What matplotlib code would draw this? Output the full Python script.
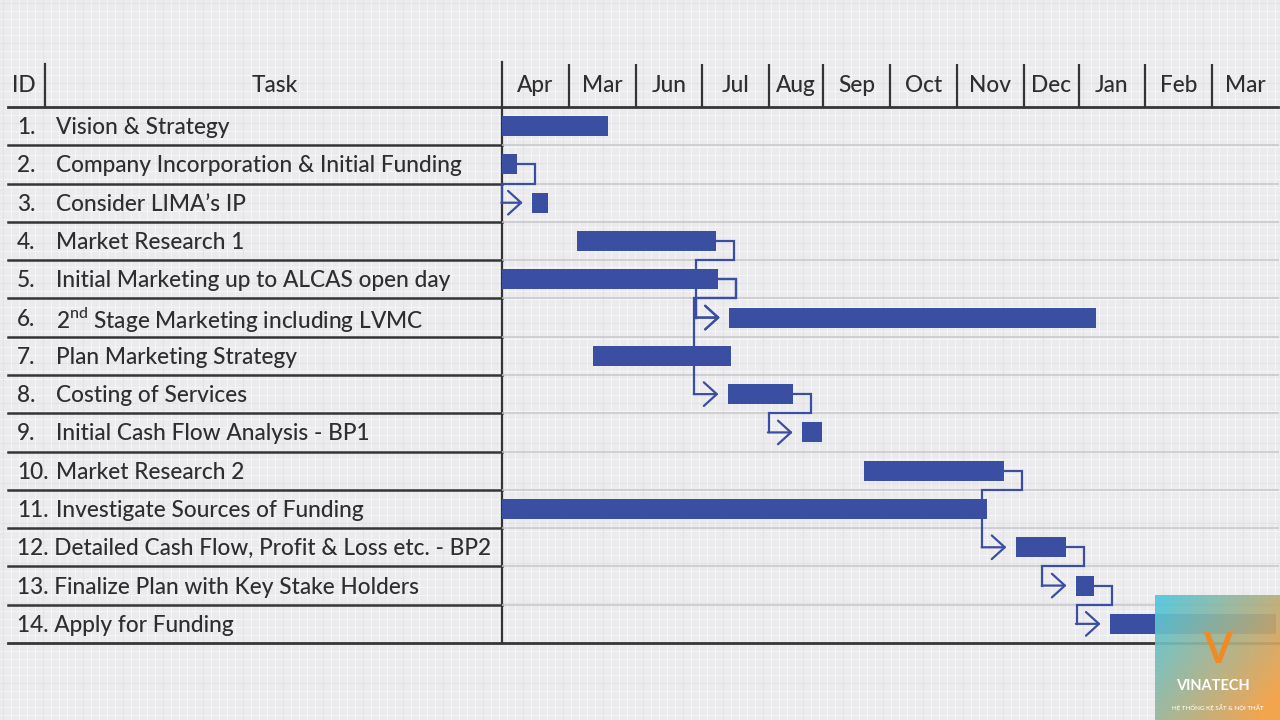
import numpy as np
import matplotlib.pyplot as plt
from matplotlib.collections import LineCollection

plt.rcParams['font.family'] = ['Lato', 'DejaVu Sans']
plt.rcParams['font.weight'] = 'medium'
plt.rcParams['mathtext.fontset'] = 'custom'
plt.rcParams['mathtext.rm'] = 'Lato:medium'

# month columns (width relative to a normal month column)
months = ['Apr', 'Mar', 'Jun', 'Jul', 'Aug', 'Sep', 'Oct', 'Nov', 'Dec', 'Jan', 'Feb', 'Mar']
month_widths = [1, 1, 1, 1, 0.81, 1, 1, 1, 0.82, 1, 1, 1]

task_ids = list(range(1, 15))
tasks = ['Vision & Strategy',
         'Company Incorporation & Initial Funding',
         'Consider LIMA\u2019s IP',
         'Market Research 1',
         'Initial Marketing up to ALCAS open day',
         r'2$^{\rm nd}$ Stage Marketing including LVMC',
         'Plan Marketing Strategy',
         'Costing of Services',
         'Initial Cash Flow Analysis - BP1',
         'Market Research 2',
         'Investigate Sources of Funding',
         'Detailed Cash Flow, Profit & Loss etc. - BP2',
         'Finalize Plan with Key Stake Holders',
         'Apply for Funding']
# start / finish in month-column units
start = [0, 0, 0.45, 1.12, 0, 3.40, 1.36, 3.38, 4.49, 5.42, 0, 7.69, 8.59, 9.10]
finish = [1.59, 0.22, 0.69, 3.20, 3.23, 8.89, 3.43, 4.36, 4.79, 7.51, 7.26, 8.44, 8.86, 11.58]
# dependencies (from task, to task)
links = [(2, 3), (4, 6), (5, 6), (5, 8), (8, 9), (10, 12), (12, 13), (13, 14)]

bar_col = '#3a4ea2'
dark = '#353535'
text_col = '#2e2e2e'
fs = 16.3

fig = plt.figure(figsize=(12.8, 7.2), dpi=100)
fig.patch.set_facecolor('#ebebee')

# background / table layer in pixel coords
bg = fig.add_axes([0, 0, 1, 1])
bg.set_xlim(0, 1280)
bg.set_ylim(720, 0)
bg.axis('off')

# graph paper texture
seg = [[(x, 0), (x, 720)] for x in np.arange(3, 1280, 8)]
seg += [[(0, y), (1280, y)] for y in np.arange(3, 720, 8)]
bg.add_collection(LineCollection(seg, colors='#f5f5f7', linewidths=0.8, zorder=0))
seg = [[(x, 0), (x, 720)] for x in np.arange(3, 1280, 40)]
seg += [[(0, y), (1280, y)] for y in np.arange(3, 720, 40)]
bg.add_collection(LineCollection(seg, colors='#e3e3e7', linewidths=0.8, zorder=0))

top, row_h = 107, (643 - 107) / 14
left, split, right = 8, 502, 1278

# table lines
for k in range(1, 14):
    y = top + k * row_h
    bg.plot([left, split], [y, y], color=dark, lw=1.8, zorder=2)
bg.plot([left, right], [top, top], color=dark, lw=2.0, zorder=3)
bg.plot([left, right], [643, 643], color=dark, lw=2.0, zorder=3)
bg.plot([split, split], [62, 643], color=dark, lw=1.6, zorder=3)
bg.plot([45, 45], [64, top], color=dark, lw=1.6, zorder=3)

bg.text(24, 85, 'ID', ha='center', va='center', fontsize=fs, color=text_col)
bg.text(275, 85, 'Task', ha='center', va='center', fontsize=fs, color=text_col)
for i, (tid, name) in enumerate(zip(task_ids, tasks)):
    y = top + (i + 0.5) * row_h + 1.5
    if tid < 12:
        bg.text(17, y, f'{tid}.', ha='left', va='center', fontsize=fs, color=text_col)
        bg.text(56, y, name, ha='left', va='center', fontsize=fs, color=text_col)
    else:
        bg.text(17, y, f'{tid}. {name}', ha='left', va='center', fontsize=fs, color=text_col)

# gantt layer: x in month units, y in task rows
edges = np.concatenate([[0], np.cumsum(month_widths)])
ax = fig.add_axes([split / 1280, 1 - 643 / 720, (1279 - split) / 1280, (643 - top) / 720])
ax.set_xlim(0, edges[-1])
ax.set_ylim(14.5, 0.5)
ax.axis('off')
ax.patch.set_alpha(0)

for k in range(1, 14):
    ax.axhline(k + 0.5, color='#c6c6cb', lw=1.1, zorder=1)

hdr_y = 0.5 - (top - 85) / row_h
for m, a, b in zip(months, edges[:-1], edges[1:]):
    ax.text((a + b) / 2, hdr_y, m, ha='center', va='center', fontsize=fs,
            color=text_col, clip_on=False)
for e in edges[1:-1]:
    ax.plot([e, e], [0.5 - (top - 64) / row_h, 0.5], color=dark, lw=1.6,
            clip_on=False, solid_capstyle='butt')

ax.barh(task_ids, np.array(finish) - np.array(start), left=start, height=0.52,
        color=bar_col, zorder=4)

for a, b in links:
    x0 = finish[a - 1]
    xr = x0 + 0.27
    xe = max(start[b - 1] - 0.5, 0)
    xt = start[b - 1] - 0.14
    ax.plot([x0, xr, xr, xe, xe], [a, a, a + 0.5, a + 0.5, b], color=bar_col,
            lw=1.6, zorder=3, clip_on=False, solid_joinstyle='miter')
    ax.annotate('', xy=(xt, b), xytext=(xe - 0.01, b),
                arrowprops=dict(arrowstyle='->,head_length=0.55,head_width=0.5',
                                color=bar_col, lw=1.6, shrinkA=0, shrinkB=0,
                                mutation_scale=17),
                zorder=3)

# watermark logo box
logo = fig.add_axes([1155 / 1280, 0, 125 / 1280, 125 / 720])
gx, gy = np.meshgrid(np.linspace(0, 1, 50), np.linspace(0, 1, 50))
c1 = np.array([0.30, 0.78, 0.88])
c2 = np.array([0.96, 0.62, 0.25])
t = np.clip(0.65 * gx + 0.45 * gy, 0, 1)[..., None]
logo.imshow(c1 * (1 - t) + c2 * t, extent=[0, 1, 0, 1], alpha=0.92, aspect='auto')
logo.set_xlim(0, 1)
logo.set_ylim(0, 1)
logo.axis('off')
logo.text(0.5, 0.55, 'V', ha='center', va='center', fontsize=30, color='#f08a24',
          fontweight='bold')
logo.text(0.46, 0.27, 'VINATECH', ha='center', va='center', fontsize=10.5, color='white',
          fontweight='bold')
logo.text(0.5, 0.1, 'H\u1ec6 TH\u1ed0NG K\u1ec6 S\u1eaeT & N\u1ed8I TH\u1ea4T', ha='center',
          va='center', fontsize=4.5, color='white')

fig.savefig('out.png', dpi=100)
